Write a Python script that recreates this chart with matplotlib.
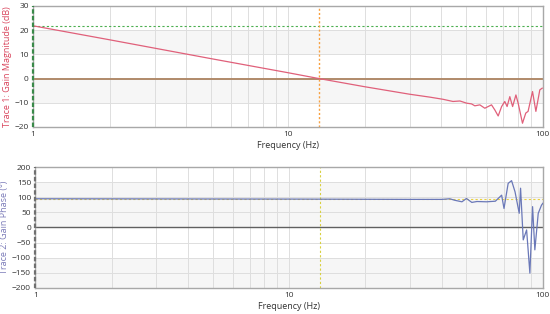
import matplotlib.pyplot as plt

plt.rcParams['font.family'] = ['Open Sans', 'DejaVu Sans']

# trace 1: gain magnitude (dB)
mag_freq = [1, 2, 5, 10, 13.2, 20, 30, 36, 40.6, 44.4, 47.3, 50.2, 52.5, 54.1, 56.6,
            59.2, 61, 62.9, 64.8, 66.8, 68.9, 70.9, 72.4, 74.2, 76.1, 78.4, 80,
            83.2, 85.7, 87.5, 91.1, 93.9, 97.3, 99.4]
mag_db = [21.8, 16.0, 8.2, 2.4, 0.0, -3.4, -6.5, -7.7, -8.6, -9.5, -9.3, -10.2, -10.5,
          -11.3, -10.9, -12.3, -11.6, -10.9, -13.0, -15.5, -11.6, -9.5, -11.6, -7.5,
          -11.6, -6.8, -10.2, -18.5, -14.3, -13.6, -5.4, -13.6, -4.7, -4.0]

# trace 2: gain phase (deg)
ph_freq = [1, 10, 30, 40, 43, 45, 48, 50, 52.5, 55, 60, 65, 68.8, 70.3, 73, 75.3,
           77.7, 80.7, 81.7, 83.7, 86.3, 88.9, 91.1, 93, 95.9, 98.8, 100]
ph_deg = [95, 94, 93, 93, 95, 90, 85, 96, 83, 86, 85, 87, 107, 63, 146, 155, 118,
          47, 130, -41, -8, -151, 69, -74, 47, 74, 80]

crossover_hz = 13.2
ref_db = 21.8
ref_deg = 93

fig = plt.figure(figsize=(5.5, 3.14), dpi=100)
ax1 = fig.add_axes([0.060, 0.596, 0.927, 0.385])
ax2 = fig.add_axes([0.064, 0.083, 0.923, 0.385])

grid_c = '#dedede'
band_c = '#f6f6f6'


def style(ax, ylim, yticks, bands):
    ax.set_xscale('log')
    ax.set_xlim(1, 100)
    ax.set_ylim(*ylim)
    ax.set_yticks(yticks)
    for lo, hi in bands:
        ax.axhspan(lo, hi, color=band_c, zorder=0, lw=0)
    ax.set_xticks([1, 10, 100])
    ax.set_xticklabels(['1', '10', '100'])
    ax.set_xticks([m * d for d in (1, 10) for m in range(2, 10)], minor=True)
    ax.xaxis.set_minor_formatter(plt.NullFormatter())
    ax.grid(True, which='both', axis='x', color=grid_c, lw=0.7)
    ax.grid(True, which='major', axis='y', color=grid_c, lw=0.7)
    ax.set_axisbelow(True)
    ax.tick_params(which='both', length=0, labelsize=6, colors='#333333', pad=3)
    for s in ax.spines.values():
        s.set_color('#a8a8a8')
        s.set_linewidth(1.0)
    ax.set_xlabel('Frequency (Hz)', fontsize=6.5, color='#333333', labelpad=2)


style(ax1, (-20, 30), range(-20, 31, 10), [(10, 20), (-10, 0)])
style(ax2, (-200, 200), range(-200, 201, 50), [(0, 150), (-200, -100)])

ax1.axhline(0, color='#b08a6a', lw=1.4, zorder=2)
ax1.axhline(ref_db, color='#4caf50', lw=0.8, ls=(0, (2, 2)), zorder=2)
ax1.axvline(crossover_hz, color='#f7a040', lw=1.0, ls=(0, (1.5, 1.5)), zorder=2)
ax1.axvline(1.0, color='#3a8a4a', lw=1.6, ls=(0, (2, 1)), zorder=5, clip_on=False)
ax1.plot(mag_freq, mag_db, color='#e0607a', lw=0.9, zorder=4)
ax1.set_ylabel('Trace 1: Gain Magnitude (dB)', fontsize=6.5, color='#d9445c', labelpad=2)

ax2.axhline(0, color='#606060', lw=1.0, zorder=2)
ax2.axhline(ref_deg, color='#e8d040', lw=0.8, ls=(0, (2, 2)), zorder=2)
ax2.axvline(crossover_hz, color='#d8d040', lw=0.8, ls=(0, (2, 2)), zorder=2)
ax2.axvline(1.0, color='#707070', lw=1.6, ls=(0, (2, 1)), zorder=5, clip_on=False)
ax2.plot(ph_freq, ph_deg, color='#6a78b8', lw=0.9, zorder=4)
ax2.set_ylabel('Trace 2: Gain Phase (°)', fontsize=6.5, color='#7a7ab8', labelpad=2)

fig.savefig('out.png', dpi=100)
